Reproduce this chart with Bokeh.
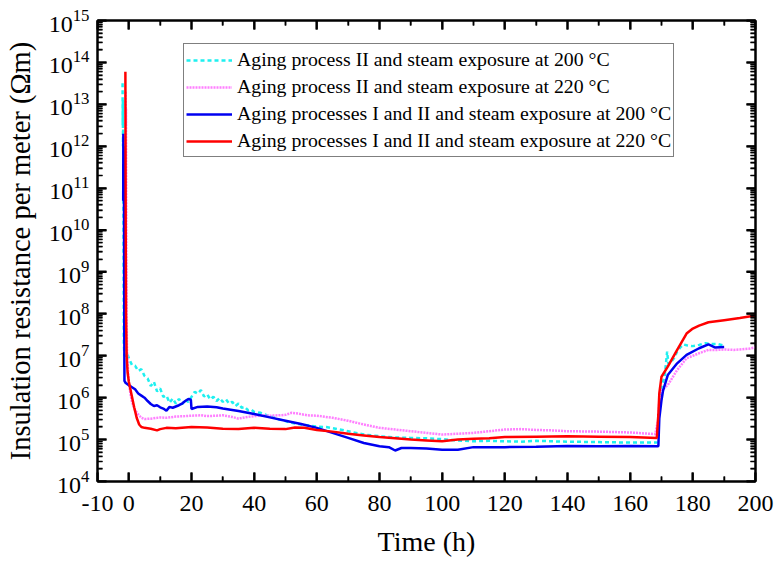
from math import pi
from bokeh.plotting import figure
from bokeh.models import (FixedTicker, LinearAxis, LogAxis, Range1d, LogTickFormatter)
from bokeh.embed import file_html
from bokeh.resources import INLINE

# ---------------- data (time in h, log10 of resistance in Ohm*m) ----------------
t_c = [-2.0, -1.95, -1.9, -1.85, -1.8, -1.75, -1.7, -1.65, -1.6, -1.4, -1.0, -0.5,
       0, 1, 2, 3, 4, 5, 6, 7, 8, 9, 10, 11, 12, 13, 14, 15, 16, 17, 18, 19, 20,
       21, 22, 23, 24, 25, 26, 27, 28, 29, 30, 31, 32, 33, 34, 35, 36, 37, 38, 39,
       40, 42, 44, 46, 48, 50, 52, 55, 58, 60, 63, 66, 70, 75, 80, 85, 90, 95, 100,
       105, 110, 115, 120, 125, 130, 140, 150, 160, 168.5, 169.5, 170, 171, 171.8,
       172.2, 173, 174, 175, 176, 177, 178, 180, 182, 184, 186, 188, 190]
e_c = [13.5, 12.5, 13.1, 12.0, 12.6, 11.9, 10.0, 8.5, 7.3, 7.0, 7.0, 7.05,
       6.94, 6.78, 6.76, 6.64, 6.68, 6.52, 6.46, 6.28, 6.38, 6.15, 6.22, 6.02, 6.05,
       5.88, 5.98, 5.86, 5.97, 5.84, 5.95, 5.90, 6.02, 6.14, 6.10, 6.18, 6.03, 6.08,
       5.96, 6.02, 5.92, 5.99, 5.90, 5.96, 5.86, 5.90, 5.80, 5.86, 5.76, 5.78, 5.70,
       5.72, 5.66, 5.64, 5.58, 5.54, 5.48, 5.44, 5.40, 5.36, 5.33, 5.31, 5.30, 5.26,
       5.20, 5.12, 5.08, 5.05, 5.04, 5.03, 5.01, 4.98, 4.96, 4.97, 4.96, 4.95, 4.97,
       4.95, 4.94, 4.93, 4.93, 5.94, 6.26, 6.50, 7.10, 6.80, 6.85, 6.94, 7.10, 7.20,
       7.27, 7.25, 7.23, 7.26, 7.30, 7.28, 7.28, 7.24]

t_p = [-1.0, -0.95, -0.9, -0.85, -0.8, -0.75, -0.7, -0.6, -0.4, 0, 0.5, 1, 2, 3, 4,
       5, 7, 10, 12, 15, 18, 20, 23, 25, 28, 30, 33, 35, 37, 40, 43, 45, 48, 50, 52,
       54, 57, 60, 65, 70, 75, 80, 85, 90, 95, 100, 105, 110, 115, 120, 125, 130,
       135, 140, 150, 160, 168, 169, 169.3, 170, 172, 175, 178, 180, 182, 185, 188,
       190, 193, 195, 198, 200]
e_p = [13.3, 12.5, 12.9, 11.5, 10.5, 9.0, 8.0, 7.2, 6.8, 6.35, 6.1, 5.9, 5.7, 5.6,
       5.52, 5.49, 5.50, 5.53, 5.52, 5.55, 5.56, 5.57, 5.58, 5.56, 5.57, 5.58, 5.54,
       5.50, 5.53, 5.56, 5.58, 5.57, 5.58, 5.59, 5.64, 5.62, 5.58, 5.57, 5.52, 5.45,
       5.36, 5.28, 5.24, 5.20, 5.16, 5.12, 5.14, 5.16, 5.20, 5.24, 5.25, 5.23, 5.22,
       5.20, 5.19, 5.17, 5.13, 5.50, 5.93, 6.17, 6.30, 6.66, 6.94, 7.00, 7.06, 7.14,
       7.14, 7.15, 7.14, 7.15, 7.17, 7.20]

t_b = [-1.8, -1.75, -1.7, -1.65, -1.6, -1.55, -1.5, -1.45, -1.4, -1.0, 0, 1, 2, 3,
       4, 5, 6, 7, 8, 9, 10, 11, 12, 13, 14, 15, 16, 17, 18, 19, 19.8, 20, 22, 25,
       28, 30, 35, 40, 45, 50, 55, 60, 65, 70, 75, 80, 83, 85, 87, 90, 95, 100, 105,
       110, 120, 130, 140, 150, 160, 169, 169.3, 170, 170.5, 172, 175, 178, 182, 185,
       187, 190]
e_b = [10.7, 12.3, 11.5, 12.0, 11.2, 10.8, 9.0, 7.5, 6.4, 6.35, 6.30, 6.25, 6.20,
       6.10, 6.05, 6.00, 5.92, 5.85, 5.80, 5.82, 5.77, 5.74, 5.69, 5.78, 5.76, 5.79,
       5.82, 5.86, 5.92, 5.97, 5.95, 5.73, 5.78, 5.79, 5.77, 5.74, 5.68, 5.61, 5.53,
       5.45, 5.37, 5.28, 5.16, 5.04, 4.92, 4.84, 4.82, 4.74, 4.80, 4.80, 4.79, 4.76,
       4.76, 4.82, 4.82, 4.83, 4.85, 4.84, 4.85, 4.84, 5.50, 5.94, 6.17, 6.54, 6.82,
       7.02, 7.18, 7.27, 7.20, 7.21]

t_r = [-1.1, -1.05, -1.0, -0.9, -0.7, -0.4, 0, 0.5, 1, 1.7, 2.5, 3.3, 4, 5, 7, 9,
       10, 12, 15, 18, 20, 25, 30, 35, 40, 45, 50, 53, 56, 60, 65, 70, 75, 80, 85,
       90, 95, 100, 105, 110, 115, 120, 130, 140, 150, 160, 168.5, 169, 169.3, 170,
       172, 175, 178, 180, 182, 185, 190, 195, 200]
e_r = [13.78, 12.0, 10.0, 8.0, 7.0, 6.6, 6.38, 6.2, 6.02, 5.77, 5.52, 5.36, 5.30,
       5.28, 5.26, 5.22, 5.25, 5.28, 5.27, 5.29, 5.30, 5.29, 5.26, 5.25, 5.28, 5.26,
       5.25, 5.29, 5.28, 5.23, 5.19, 5.14, 5.10, 5.06, 5.03, 5.00, 4.98, 4.96, 5.00,
       5.02, 5.03, 5.06, 5.07, 5.08, 5.07, 5.06, 5.04, 5.60, 6.10, 6.50, 6.74, 7.14,
       7.53, 7.65, 7.72, 7.80, 7.85, 7.90, 7.96]

labels = ["Aging process II and steam exposure at 200 °C",
          "Aging process II and steam exposure at 220 °C",
          "Aging processes I and II and steam exposure at 200 °C",
          "Aging processes I and II and steam exposure at 220 °C"]
x_major = [-10, 0, 20, 40, 60, 80, 100, 120, 140, 160, 180, 200]
x_minor = [10, 30, 50, 70, 90, 110, 130, 150, 170, 190]
y_exponents = list(range(4, 16))

FONT = "Liberation Serif"
X0, X1 = -10, 200
Y0, Y1 = 1e4, 1e15

y_major = [10.0 ** k for k in y_exponents]
y_minor = [m * 10.0 ** k for k in y_exponents[:-1] for m in range(2, 10)]

p = figure(width=775, height=562, output_backend="svg", toolbar_location=None,
           y_axis_type="log", x_range=Range1d(X0, X1), y_range=Range1d(Y0, Y1),
           min_border_left=97, min_border_right=20, min_border_top=20,
           min_border_bottom=81)
p.grid.visible = False
p.outline_line_color = "black"
p.outline_line_width = 2

series = [(t_c, e_c, "#1EF0F0", "4 3", labels[0]),
          (t_p, e_p, "#FF7FFF", "2 1", labels[1]),
          (t_b, e_b, "#0000F0", "solid", labels[2]),
          (t_r, e_r, "#FF0000", "solid", labels[3])]
for t, e, col, dash, lab in series:
    p.line(t, [10 ** v for v in e], line_color=col, line_width=2.5,
           line_dash=dash, legend_label=lab)

# inward tick marks on all four sides (half of each dash lies inside the frame)
for xs, size, lw in [(x_major, 18, 2), (x_minor, 10, 1.5)]:
    for edge in (Y0, Y1):
        p.scatter(xs, [edge] * len(xs), marker="dash", size=size, angle=pi / 2,
                  line_color="black", line_width=lw)
for ys, size, lw in [(y_major, 18, 2), (y_minor, 10, 1.2)]:
    for edge in (X0, X1):
        p.scatter([edge] * len(ys), ys, marker="dash", size=size,
                  line_color="black", line_width=lw)

def style_axis(ax):
    ax.axis_line_width = 2
    ax.major_tick_line_width = 2
    ax.minor_tick_line_width = 1.5
    ax.major_tick_in = 9
    ax.major_tick_out = 0
    ax.minor_tick_in = 5
    ax.minor_tick_out = 0
    ax.major_label_text_font = FONT
    ax.major_label_text_font_size = "24px"
    ax.major_label_text_color = "black"
    ax.axis_label_text_font = FONT
    ax.axis_label_text_font_size = "28px"
    ax.axis_label_text_font_style = "normal"
    ax.axis_label_text_color = "black"

xa = p.xaxis[0]
style_axis(xa)
xa.ticker = FixedTicker(ticks=x_major, minor_ticks=x_minor)
xa.major_label_overrides = {-10: "-10"}
xa.axis_label = "Time (h)"
xa.major_label_standoff = 14
xa.axis_label_standoff = 12

ya = p.yaxis[0]
style_axis(ya)
ya.ticker = FixedTicker(ticks=y_major, minor_ticks=y_minor)
ya.formatter = LogTickFormatter()
ya.axis_label = "Insulation resistance per meter (Ωm)"
ya.axis_label_text_font_size = "28.5px"
ya.major_label_standoff = 8
ya.axis_label_standoff = 10

top = LinearAxis(ticker=FixedTicker(ticks=x_major, minor_ticks=x_minor),
                 major_label_overrides={v: " " for v in x_major})
style_axis(top)
top.major_label_text_font_size = "1px"
top.major_label_standoff = 0
p.add_layout(top, "above")
right = LogAxis(ticker=FixedTicker(ticks=y_major, minor_ticks=y_minor),
                major_label_overrides={v: " " for v in y_major})
style_axis(right)
right.major_label_text_font_size = "1px"
right.major_label_standoff = 0
p.add_layout(right, "right")

lg = p.legend[0]
lg.location = (86, 324)
lg.margin = 0
lg.padding = 2
lg.spacing = 0
lg.label_height = 27
lg.glyph_height = 20
lg.glyph_width = 46
lg.label_standoff = 5
lg.label_text_font = FONT
lg.label_text_font_size = "19.8px"
lg.label_text_color = "black"
lg.border_line_color = "black"
lg.border_line_width = 1
lg.background_fill_alpha = 1

open("out.html", "w").write(file_html(p, INLINE))
